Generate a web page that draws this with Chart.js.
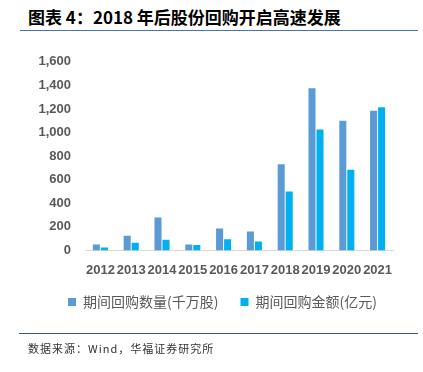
<!DOCTYPE html>
<html lang="zh">
<head>
<meta charset="UTF-8">
<title>图表 4</title>
<script src="https://cdn.jsdelivr.net/npm/chart.js"></script>
<style>
    body { margin: 0; width: 423px; height: 372px; background: #fff; position: relative; overflow: hidden; }
    .titulo { position: absolute; left: 28px; top: 4px; font: bold 17px "Noto Sans CJK SC", sans-serif; color: #000; white-space: nowrap; }
    .linha_top { position: absolute; left: 20px; top: 30px; width: 398px; height: 1px; background: #4472C4; }
    .linha_bottom { position: absolute; left: 19px; top: 333px; width: 399px; height: 1px; background: #2E5597; }
    .fonte { position: absolute; left: 28px; top: 340px; font: 11px "Noto Sans CJK SC", sans-serif; color: #333; letter-spacing: 1px; white-space: nowrap; }
    .grafico { position: absolute; left: 0; top: 40px; width: 423px; height: 297px; }
</style>
</head>
<body>
    <div class="titulo">图表 4：2018 年后股份回购开启高速发展</div>
    <div class="linha_top"></div>
    <div class="grafico"><canvas id="myChart" width="423" height="297"></canvas></div>
    <div class="linha_bottom"></div>
    <div class="fonte">数据来源：Wind，华福证券研究所</div>

<script>
// anos
const labels = ['2012', '2013', '2014', '2015', '2016', '2017', '2018', '2019', '2020', '2021'];
// periodo recompra quantidade (千万股)
const quantidade = [50, 125, 280, 50, 185, 160, 730, 1375, 1100, 1185];
// periodo recompra valor (亿元)
const valor = [25, 65, 90, 45, 95, 75, 500, 1025, 685, 1215];
const yTicks = [0, 200, 400, 600, 800, 1000, 1200, 1400, 1600];

const data = {
    labels: labels,
    datasets: [{
        label: '期间回购数量(千万股)',
        backgroundColor: '#5B9BD5',
        data: quantidade
    }, {
        label: '期间回购金额(亿元)',
        backgroundColor: '#00B0F0',
        data: valor
    }]
};

// ajusta a legenda (o padding do chart.js vale pra vertical e horizontal)
const moverLegenda = {
    id: 'moverLegenda',
    afterLayout(chart) {
        const lg = chart.legend;
        lg.top -= 17;
        lg.bottom -= 17;
        lg.left += 15;
        lg.right += 15;
    }
};

const config = {
    type: 'bar',
    data: data,
    options: {
        responsive: false,
        animation: false,
        layout: { padding: { top: 16, left: 22, right: 30, bottom: 1 } },
        datasets: { bar: { categoryPercentage: 0.52, barPercentage: 0.88 } },
        plugins: {
            tooltip: { enabled: false },
            legend: {
                position: 'bottom',
                labels: {
                    boxWidth: 8,
                    boxHeight: 8,
                    padding: 22,
                    color: '#595959',
                    font: { family: '"Noto Sans CJK SC", sans-serif', size: 14 }
                }
            }
        },
        scales: {
            x: {
                grid: { display: false, drawTicks: false },
                border: { color: '#D9D9D9', width: 1 },
                ticks: {
                    padding: 12,
                    maxRotation: 0,
                    autoSkip: false,
                    color: '#595959',
                    font: { family: '"Liberation Sans", sans-serif', size: 13, weight: 'bold' }
                }
            },
            y: {
                min: 0,
                max: 1600,
                afterFit: (scale) => { scale.width = 63; },
                afterBuildTicks: (scale) => { scale.ticks = yTicks.map(v => ({ value: v })); },
                grid: { display: false, drawTicks: false },
                border: { display: false },
                ticks: {
                    padding: 14,
                    color: '#595959',
                    font: { family: '"Liberation Sans", sans-serif', size: 13, weight: 'bold' },
                    callback: (v) => v.toLocaleString('en-US')
                }
            }
        }
    },
    plugins: [moverLegenda]
};

const myChart = new Chart(document.getElementById('myChart'), config);
</script>
</body>
</html>
